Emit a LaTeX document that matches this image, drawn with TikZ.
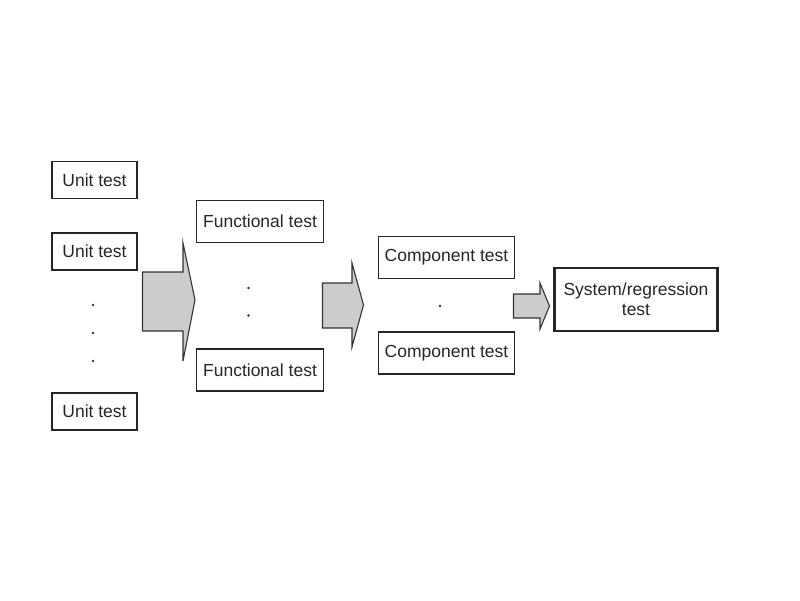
\documentclass[tikz,border=0pt]{standalone}
\usepackage{fontspec}
\setmainfont{Liberation Sans}
\begin{document}
\begin{tikzpicture}[x=1pt,y=-1pt,
  testbox/.style={draw=black!85, line width=1.2pt, fill=white, inner sep=0pt, font=\fontsize{17.5}{20}\selectfont, text=black!85},
  unitbox/.style={testbox, minimum width=85pt, minimum height=37pt},
  funcbox/.style={testbox, minimum width=127pt, minimum height=42pt},
  compbox/.style={testbox, minimum width=136pt, minimum height=42pt},
  sysbox/.style={testbox, line width=2.2pt, minimum width=163pt, minimum height=63pt, align=center},
  blockarrow/.style={draw=black!80, line width=1.1pt, fill=black!20, line join=miter},
  vdot/.style={circle, fill=black!80, inner sep=0pt, minimum size=2.8pt}]
\useasboundingbox (0,0) rectangle (800,600);
\fill[white] (0,0) rectangle (800,600);

% unit tests
\node[unitbox] (u1) at (94.5,180) {Unit test};
\node[unitbox] (u2) at (94.5,251.5) {Unit test};
\node[unitbox] (u4) at (94.5,411.5) {Unit test};
\node[vdot] (ud1) at (93,305) {};
\node[vdot] (ud2) at (93,333) {};
\node[vdot] (ud3) at (93,361) {};

% functional tests
\node[funcbox] (f1) at (260,221.5) {Functional test};
\node[funcbox] (f2) at (260,370) {Functional test};
\node[vdot] (fd1) at (248.5,288) {};
\node[vdot] (fd2) at (248.5,315.5) {};

% component tests
\node[compbox] (c1) at (446.5,257.5) {Component test};
\node[compbox] (c2) at (446.5,353) {Component test};
\node[vdot] (cd1) at (440,306) {};

% system test
\node[sysbox] (s) at (636,299.5) {System/regression\\test};

% block arrows
\draw[blockarrow] (142.5,272) -- (183,272) -- (183,243) -- (195,300) -- (183,361)
  -- (183,331) -- (142.5,331) -- cycle;
\draw[blockarrow] (322.5,283) -- (352,283) -- (352,263) -- (363.5,305) -- (352,347)
  -- (352,328) -- (322.5,328) -- cycle;
\draw[blockarrow] (513.5,294) -- (540,294) -- (540,283) -- (549.5,306) -- (540,329)
  -- (540,318) -- (513.5,318) -- cycle;
\end{tikzpicture}
\end{document}
